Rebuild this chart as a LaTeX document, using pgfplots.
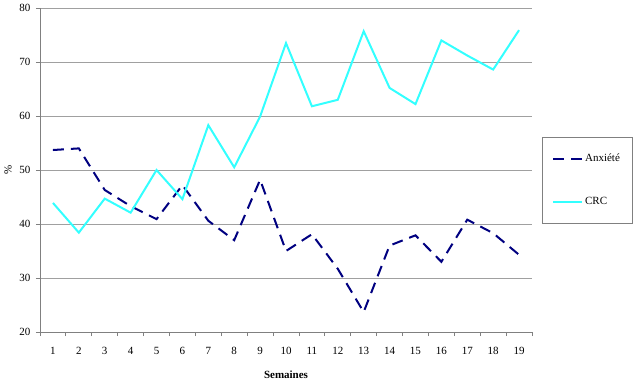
\documentclass[border=0pt]{standalone}
\usepackage{pgfplots}
\pgfplotsset{compat=1.18}
\usepackage{fontspec}
\setmainfont{Liberation Serif}

\definecolor{anxnavy}{HTML}{000080}
\definecolor{crccyan}{HTML}{33FFFF}
\definecolor{gridgray}{HTML}{A0A0A0}
\definecolor{axisgray}{HTML}{808080}

\pgfplotstableread{
semaine anxiete crc
1  53.7 43.9
2  54.0 38.4
3  46.3 44.7
4  43.3 42.1
5  40.9 50.0
6  47.2 44.6
7  40.6 58.3
8  37.0 50.5
9  48.2 59.9
10 35.0 73.5
11 38.1 61.8
12 31.7 63.0
13 23.7 75.7
14 36.0 65.2
15 37.9 62.2
16 33.0 74.0
17 40.8 71.2
18 38.3 68.6
19 34.3 75.9
}\semaines

\begin{document}
\begin{tikzpicture}
\path[use as bounding box] (0,0) rectangle (639bp,384bp);
\begin{axis}[
  at={(40bp,52bp)}, anchor=south west,
  scale only axis, width=492bp, height=324bp,
  font=\fontsize{11bp}{13bp}\selectfont,
  /pgf/number format/assume math mode=true,
  xmin=0.5, xmax=19.5, ymin=20, ymax=80,
  xtick={1,...,19}, major x tick style={draw=none},
  minor xtick={0.5,1.5,...,19.5},
  ytick={20,30,...,80},
  tick align=outside, major tick length=4bp, minor tick length=4bp,
  tick style={axisgray, line width=0.8pt},
  axis x line*=bottom, axis y line*=left,
  axis line style={axisgray, line width=0.8pt, -},
  ymajorgrids, grid style={gridgray, line width=0.8pt},
  xticklabel style={yshift=-8bp},
  yticklabel style={xshift=-2bp},
  xlabel={\textbf{Semaines}},
  xlabel style={at={(axis description cs:0.5,-0.133)}, anchor=center},
  ylabel={\%},
  ylabel style={at={(axis description cs:-0.065,0.5)}, anchor=center},
  legend style={at={(axis description cs:1.0197,0.335)}, anchor=south west,
    draw=axisgray, line width=0.8pt, inner xsep=10bp, inner ysep=15bp,
    row sep=30bp, font=\fontsize{11bp}{13bp}\selectfont},
  legend cell align=left,
  legend image code/.code={\draw[#1] (0bp,0bp) -- (29bp,0bp);},
]
\addplot[anxnavy, line width=2bp, dash pattern=on 11bp off 7bp] table[x=semaine, y=anxiete] {\semaines};
\addlegendentry{Anxiété}
\addplot[crccyan, line width=2bp] table[x=semaine, y=crc] {\semaines};
\addlegendentry{CRC}
\end{axis}
\end{tikzpicture}
\end{document}
